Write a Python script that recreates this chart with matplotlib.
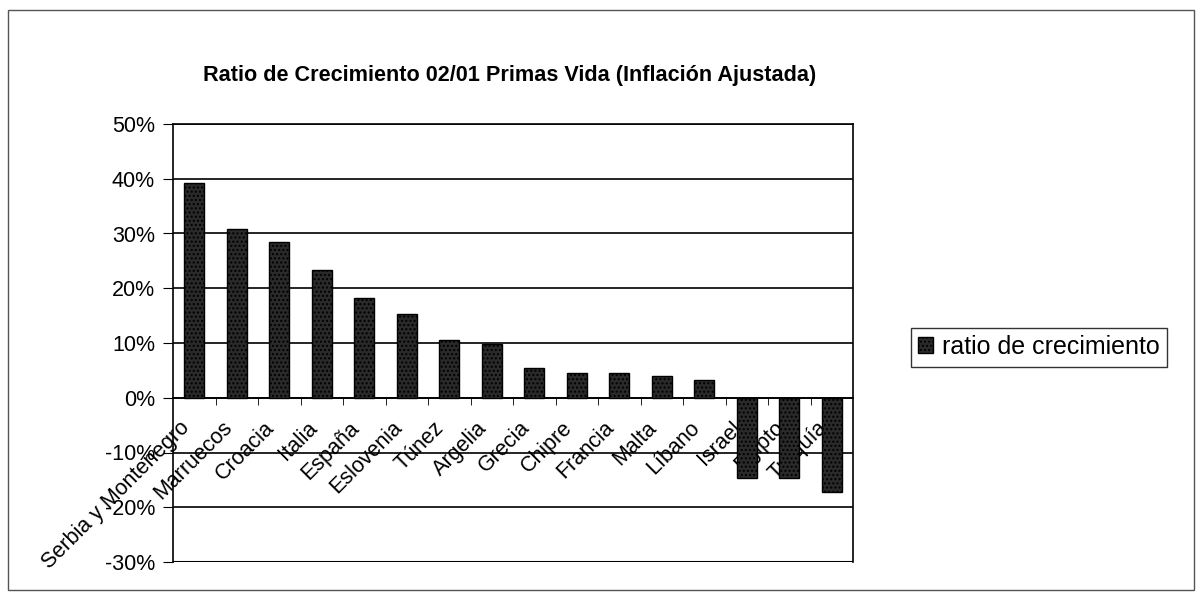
"""
Growth ratio of life-insurance premiums 02/01 (inflation adjusted), bar chart.
"""

import matplotlib.pyplot as plt
from matplotlib.patches import Rectangle
from matplotlib.transforms import ScaledTranslation
from matplotlib.ticker import FuncFormatter, MultipleLocator

plt.rcParams["font.family"] = ["Liberation Sans", "DejaVu Sans"]
plt.rcParams["hatch.color"] = "#8a8a8a"

countries = [
    "Serbia y Montenegro", "Marruecos", "Croacia", "Italia", "España",
    "Eslovenia", "Túnez", "Argelia", "Grecia", "Chipre", "Francia",
    "Malta", "Líbano", "Israel", "Egipto", "Turquía",
]
growth_pct = [
    39.2, 30.8, 28.5, 23.4, 18.2, 15.3, 10.6, 9.8,
    5.5, 4.5, 4.6, 3.9, 3.2, -14.6, -14.6, -17.3,
]
series_label = "ratio de crecimiento"
title = "Ratio de Crecimiento 02/01 Primas Vida (Inflación Ajustada)"

figure = plt.figure(figsize=(12.02, 5.96), dpi=100)
axis = figure.add_axes([173 / 1202, 1 - 562 / 596, 680 / 1202, 438 / 596])

positions = range(len(countries))
axis.bar(
    positions,
    growth_pct,
    width=0.46,
    color="#2a2a2a",
    edgecolor="black",
    linewidth=1.0,
    hatch="....",
    label=series_label,
    zorder=3,
)

axis.set_xlim(-0.5, len(countries) - 0.5)
axis.set_ylim(-30, 50)
axis.yaxis.set_major_locator(MultipleLocator(10))
axis.yaxis.set_major_formatter(FuncFormatter(lambda v, _: f"{v:.0f}%"))
axis.grid(axis="y", color="black", linewidth=1.2, zorder=0)

# category axis crosses at zero
axis.spines["bottom"].set_position(("data", 0))
axis.axhline(-30, color="black", linewidth=1.5, zorder=4)
for name in ("left", "right", "top", "bottom"):
    axis.spines[name].set_linewidth(1.2)

axis.set_xticks(list(positions))
axis.set_xticklabels(
    countries, rotation=45, ha="right", va="center", rotation_mode="anchor",
    fontsize=15.5,
)
axis.tick_params(axis="x", length=0, pad=0)
shift = ScaledTranslation(-0.08, -0.27, figure.dpi_scale_trans)
for label in axis.get_xticklabels():
    label.set_transform(label.get_transform() + shift)
axis.set_xticks([p + 0.5 for p in positions][:-1], minor=True)
axis.tick_params(axis="x", which="minor", length=5, direction="out")
axis.tick_params(axis="y", labelsize=15.5, length=7, direction="out", pad=6)

figure.text(510 / 1202, 1 - 75 / 596, title, ha="center", va="center",
            fontsize=15.6, fontweight="bold")

legend = axis.legend(
    loc="center left",
    bbox_to_anchor=(898 / 1202, 1 - 347 / 596),
    bbox_transform=figure.transFigure,
    frameon=True,
    fancybox=False,
    fontsize=18,
    handlelength=0.6,
    handleheight=0.6,
    handletextpad=0.35,
    borderpad=0.3,
)
legend.get_frame().set_edgecolor("black")
legend.get_frame().set_linewidth(1.0)

figure.patches.append(
    Rectangle((8 / 1202, 6 / 596), 1186 / 1202, 580 / 596,
              transform=figure.transFigure, fill=False,
              edgecolor="#555555", linewidth=1.0)
)

figure.savefig("out.png", dpi=100)
plt.close(figure)
